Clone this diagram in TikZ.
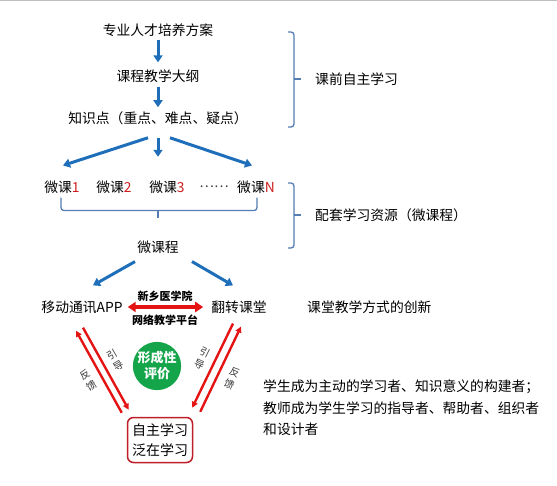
\documentclass[tikz,border=0pt]{standalone}
\usepackage{fontspec}
\setmainfont{Noto Sans CJK SC}
\usetikzlibrary{arrows.meta,calc}
\definecolor{arrowblue}{RGB}{30,110,185}
\definecolor{bracegray}{RGB}{85,125,180}
\definecolor{alertred}{RGB}{228,20,20}
\definecolor{boxred}{RGB}{190,30,40}
\definecolor{evalgreen}{RGB}{20,165,75}
\definecolor{numred}{RGB}{205,30,30}
\begin{document}
\begin{tikzpicture}[x=1pt,y=-1pt,
  txt/.style={font=\fontsize{13.8}{16}\selectfont,inner sep=1pt},
  small/.style={font=\fontsize{10}{13}\selectfont,inner sep=0pt,align=center,text=black!80},
  barrow/.style={-{Triangle[length=7pt,width=9pt]},arrowblue,line width=3pt},
  rarrow/.style={-{Triangle[length=6pt,width=6pt]},alertred,line width=2.4pt},
  brace/.style={bracegray,line width=1.3pt,rounded corners=3pt}]
\useasboundingbox (0,0) rectangle (557,485);
\draw[black!25,line width=1pt](0,.5)--(557,.5);
\node[txt] (plan) at (158,30) {专业人才培养方案};
\node[txt] (syll) at (158,76) {课程教学大纲};
\node[txt] (points) at (158,118) {知识点（重点、难点、疑点）};
\draw[barrow,shorten <=2pt,shorten >=6pt](plan)--(syll);
\draw[barrow,shorten <=3pt,shorten >=3pt](syll)--(points);
\node[txt] (m1) at (62,187) {微课\textcolor{numred}{1}};
\node[txt] (m2) at (114,187) {微课\textcolor{numred}{2}};
\node[txt] (m3) at (167,187) {微课\textcolor{numred}{3}};
\node[txt,text=black!75] (dots) at (214,187) {……};
\node[txt] (mN) at (256,187) {微课\textcolor{numred}{N}};
\draw[barrow]($(points.south)+(-10,12)$)--($(m1.north)+(1,-14)$);
\draw[barrow]($(points.south)+(0,12)$)--($(points.south)+(0,31)$);
\draw[barrow]($(points.south)+(12,12)$)--($(mN.north)+(-4,-14)$);
\node[txt] (wkc) at (158,247) {微课程};
\draw[brace]($(m1.south)+(-1,3)$)--++(0,13)--($(mN.south)+(1,16)$)--++(0,-13);
\draw[brace]($(wkc.north)+(0,-28)$)--++(0,7);
\node[txt] (app) at (82,307) {移动通讯APP};
\node[txt] (flip) at (239,307) {翻转课堂};
\draw[barrow]($(wkc.south)+(-23,7)$)--($(app.north)+(11,-14)$);
\draw[barrow]($(wkc.south)+(34,7)$)--($(flip.north)+(-6,-14)$);
\node[font=\fontsize{11}{13}\selectfont\bfseries,inner sep=0pt] (school) at (165,296) {新乡医学院};
\node[font=\fontsize{11}{13}\selectfont\bfseries,inner sep=0pt] (platform) at (165,320) {网络教学平台};
\draw[{Triangle[length=8pt,width=10pt]}-{Triangle[length=8pt,width=10pt]},alertred,line width=4pt,shorten <=4pt,shorten >=7pt](app)--(flip);
\node[circle,fill=evalgreen,minimum size=48pt,inner sep=0pt,text=white,align=center,font=\fontsize{13}{16}\selectfont\bfseries] (eval) at (157,366) {形成性\\评价};
\node[draw=boxred,line width=1.5pt,rounded corners=6pt,align=center,minimum width=65pt,minimum height=45pt,inner sep=2pt,font=\fontsize{14}{20}\selectfont] (self) at (160,440) {自主学习\\泛在学习};
\draw[rarrow]($(self.north west)+(-5,-4)$)--($(app.south)+(-6,16)$);
\draw[rarrow]($(app.south)+(1,13)$)--($(self.north west)+(2,-7)$);
\draw[rarrow]($(flip.south)+(-6,9)$)--($(self.north east)+(-1,-9)$);
\draw[rarrow]($(self.north east)+(7,-5)$)--($(flip.south)+(2,12)$);
\node[small,rotate=30] (fbleft) at (88,380) {反\\馈};
\node[small,rotate=30] (guideleft) at (115,360) {引\\导};
\node[small,rotate=-26] (guideright) at (202,358) {引\\导};
\node[small,rotate=-26] (fbright) at (232,378) {反\\馈};
\node[txt,anchor=west] (pre) at (314,79) {课前自主学习};
\draw[brace](288,32)-|(294,127)--(288,127);
\draw[brace](294,79)--(301,79);
\node[txt,anchor=west] (res) at (314,215) {配套学习资源（微课程）};
\draw[brace](288,183)-|(294,248)--(288,248);
\draw[brace](294,215)--(301,215);
\node[txt,anchor=west] (innov) at (306,307) {课堂教学方式的创新};
\node[txt,anchor=west,align=left,font=\fontsize{13.8}{21.5}\selectfont] (roles) at (262,408) {学生成为主动的学习者、知识意义的构建者；\\教师成为学生学习的指导者、帮助者、组织者\\和设计者};
\end{tikzpicture}
\end{document}
